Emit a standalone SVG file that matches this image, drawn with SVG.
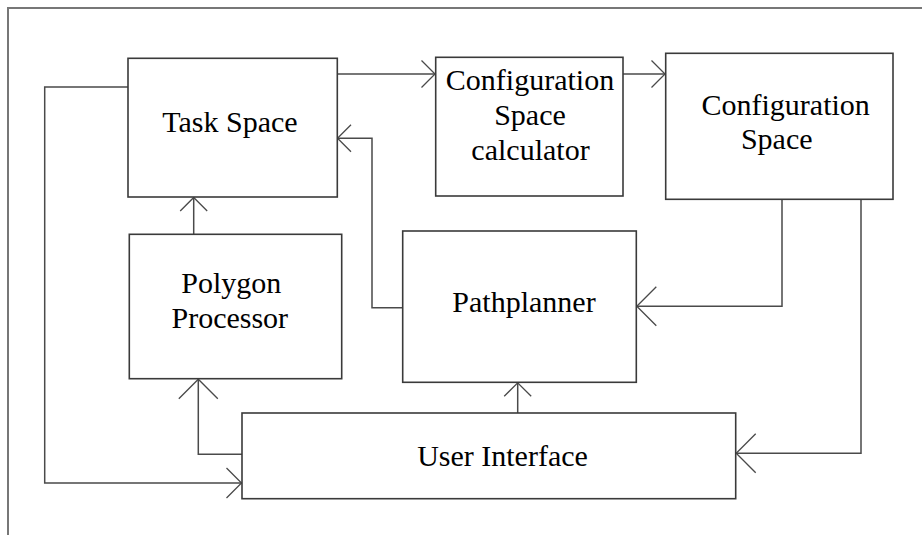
<svg xmlns="http://www.w3.org/2000/svg" width="922" height="535" viewBox="0 0 922 535">
  <defs>
    <style>
      .box { fill: #ffffff; stroke: #3a3a3a; stroke-width: 1.6; }
      .frame { fill: none; stroke: #777777; stroke-width: 2; }
      .wire { fill: none; stroke: #4a4a4a; stroke-width: 1.5; }
      .head { fill: none; stroke: #4a4a4a; stroke-width: 1.3; }
      .label { font-family: "Liberation Serif", "Times New Roman", serif; font-size: 30px; fill: #000000; text-anchor: middle; }
    </style>
    <marker id="arrow-s" viewBox="-15 -15 17 30" markerWidth="17" markerHeight="30" refX="0" refY="0" orient="auto" markerUnits="userSpaceOnUse">
      <path class="head" d="M-13.5,-13.5 L0,0 L-13.5,13.5"/>
    </marker>
    <marker id="arrow-m" viewBox="-17 -17 19 34" markerWidth="19" markerHeight="34" refX="0" refY="0" orient="auto" markerUnits="userSpaceOnUse">
      <path class="head" d="M-15,-15 L0,0 L-15,15"/>
    </marker>
    <marker id="arrow-l" viewBox="-21 -21 23 42" markerWidth="23" markerHeight="42" refX="0" refY="0" orient="auto" markerUnits="userSpaceOnUse">
      <path class="head" d="M-19.5,-19.5 L0,0 L-19.5,19.5"/>
    </marker>
  </defs>

  <rect width="922" height="535" fill="#ffffff"/>
  <!-- page border (open on the right and bottom) -->
  <path class="frame" d="M8,540 L8,8 L930,8"/>

  <g id="connectors">
    <path class="wire" d="M337,74 L435,74" marker-end="url(#arrow-s)"/>
    <path class="wire" d="M623,74 L665,74" marker-end="url(#arrow-s)"/>
    <path class="wire" d="M193.7,234 L193.7,197.5" marker-end="url(#arrow-s)"/>
    <path class="wire" d="M402.7,307.7 L372,307.7 L372,138.3 L337.5,138.3" marker-end="url(#arrow-s)"/>
    <path class="wire" d="M782,199.3 L782,306.3 L636.8,306.3" marker-end="url(#arrow-l)"/>
    <path class="wire" d="M861,199.3 L861,453.3 L736.2,453.3" marker-end="url(#arrow-l)"/>
    <path class="wire" d="M517.7,413 L517.7,382.8" marker-end="url(#arrow-s)"/>
    <path class="wire" d="M242,454.3 L198.3,454.3 L198.3,379.2" marker-end="url(#arrow-l)"/>
    <path class="wire" d="M128,87 L44.7,87 L44.7,483 L241.5,483" marker-end="url(#arrow-m)"/>
  </g>

  <g id="task-space">
    <rect class="box" x="128" y="58.3" width="209.3" height="138.7"/>
    <text class="label" x="230" y="131.7">Task Space</text>
  </g>

  <g id="config-space-calculator">
    <rect class="box" x="435.7" y="57.3" width="187.3" height="138.7"/>
    <text class="label" x="530" y="90">Configuration</text>
    <text class="label" x="530" y="125">Space</text>
    <text class="label" x="530.5" y="160">calculator</text>
  </g>

  <g id="configuration-space">
    <rect class="box" x="665.7" y="53.3" width="227.3" height="146"/>
    <text class="label" x="785.7" y="115">Configuration</text>
    <text class="label" x="776.7" y="149">Space</text>
  </g>

  <g id="polygon-processor">
    <rect class="box" x="129.3" y="234.3" width="212.4" height="144.4"/>
    <text class="label" x="231.3" y="292.7">Polygon</text>
    <text class="label" x="229.8" y="328.3">Processor</text>
  </g>

  <g id="pathplanner">
    <rect class="box" x="402.7" y="231" width="233.6" height="151.3"/>
    <text class="label" x="524" y="311.7">Pathplanner</text>
  </g>

  <g id="user-interface">
    <rect class="box" x="242" y="413" width="493.7" height="85.7"/>
    <text class="label" x="502.5" y="465.7">User Interface</text>
  </g>
</svg>
